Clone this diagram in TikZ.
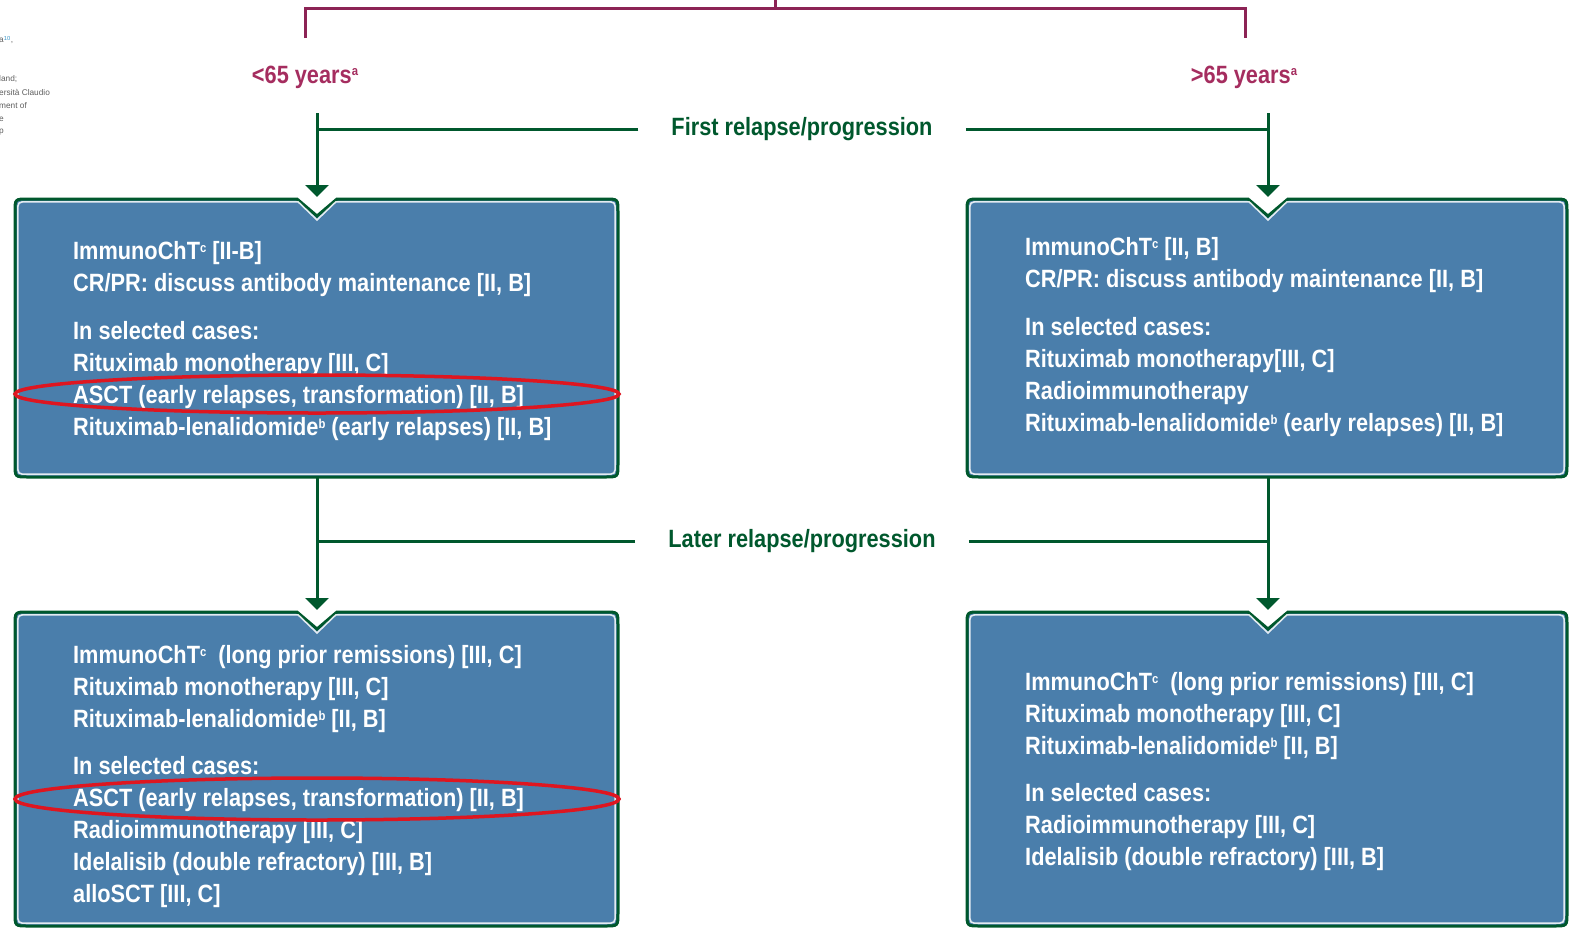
\documentclass[tikz,border=0pt]{standalone}
\usepackage{fontspec}
\setmainfont{Liberation Sans}[FakeStretch=0.87]
\newfontfamily\notefont{Liberation Sans}
\usetikzlibrary{arrows.meta}
\definecolor{boxblue}{RGB}{74,126,171}
\definecolor{dgreen}{RGB}{0,88,45}
\definecolor{magline}{RGB}{140,35,85}
\definecolor{magtext}{RGB}{165,45,95}
\definecolor{ovalred}{RGB}{222,22,32}
\definecolor{notegray}{RGB}{95,95,95}
\definecolor{noteblue}{RGB}{60,150,200}
\newcommand{\supx}[1]{\raisebox{0.55ex}{\fontsize{13}{13}\selectfont #1}}
% #1 left, #2 top, #3 right, #4 bottom, #5 notch x, #6 inset, #7 style
\newcommand{\notchdraw}[7]{%
  \path[#7] ({#1+#6},{#4-13}) -- ({#1+#6},{#2+13})
    .. controls ({#1+#6},{#2+#6}) .. ({#1+13},{#2+#6})
    -- ({#5-20+#6*0.4},{#2+#6}) -- (#5,{#2+17+#6*1.4}) -- ({#5+20-#6*0.4},{#2+#6})
    -- ({#3-13},{#2+#6}) .. controls ({#3-#6},{#2+#6}) .. ({#3-#6},{#2+13})
    -- ({#3-#6},{#4-13}) .. controls ({#3-#6},{#4-#6}) .. ({#3-13},{#4-#6})
    -- ({#1+13},{#4-#6}) .. controls ({#1+#6},{#4-#6}) .. ({#1+#6},{#4-13}) -- cycle;}
\newcommand{\panel}[5]{%
  \notchdraw{#1}{#2}{#3}{#4}{#5}{0}{boxouter}%
  \notchdraw{#1}{#2}{#3}{#4}{#5}{2.8}{boxinner}}
\tikzset{
  boxouter/.style={fill=boxblue, draw=dgreen, line width=3pt},
  boxinner/.style={draw=white, line width=1.6pt, draw opacity=0.85},
  boxtxt/.style={anchor=north west, inner sep=0pt, align=left, text=white,
    font=\fontsize{25}{32}\selectfont\bfseries},
  gline/.style={draw=dgreen, line width=3pt},
  garrow/.style={gline, -{Triangle[width=23pt,length=12pt]}},
  magl/.style={draw=magline, line width=3pt},
  glabel/.style={inner xsep=33pt, inner ysep=0pt, text=dgreen,
    font=\fontsize{25}{30}\selectfont\bfseries},
  agelabel/.style={inner sep=0pt, text=magtext, font=\fontsize{25}{30}\selectfont\bfseries},
  oval/.style={draw=ovalred, line width=3.5pt},
  note/.style={anchor=west, inner sep=0pt, text=notegray, font=\notefont\fontsize{8.3}{10}\selectfont}
}
\begin{document}
\begin{tikzpicture}[x=1pt,y=-1pt]
\useasboundingbox (0,0) rectangle (1572,930);
\fill[white] (0,0) rectangle (1572,930);

% cropped margin text
\node[note] (n1) at (-1,40) {a\textsuperscript{\color{noteblue}10},};
\node[note] (n2) at (-1,79) {land;};
\node[note] (n3) at (-1,92) {ersità Claudio};
\node[note] (n4) at (-1,106) {ment of};
\node[note] (n5) at (-1,119) {e};
\node[note] (n6) at (-1,132) {p};

% top bracket
\coordinate (root) at (775,0);
\coordinate (rootj) at (775,8);
\coordinate (brL) at (305,8);
\coordinate (brR) at (1245,8);
\coordinate (brLe) at (305,38);
\coordinate (brRe) at (1245,38);
\draw[magl] (root) -- (rootj);
\draw[magl] (brLe) -- (brL) -- (brR) -- (brRe);
\node[agelabel] (ageL) at (305,77) {<65 years\supx{a}};
\node[agelabel] (ageR) at (1244,77) {>65 years\supx{a}};

% panels
\panel{15}{199}{618}{477}{317}
\panel{967}{199}{1567}{477}{1268}
\panel{15}{612}{618}{926}{317}
\panel{967}{612}{1567}{926}{1268}

% connectors: first relapse
\node[glabel] (first) at (802,129) {First relapse/progression};
\coordinate (sL1) at (317,113);
\coordinate (jL1) at (317,129);
\coordinate (tL1) at (317,197);
\coordinate (sR1) at (1268,113);
\coordinate (jR1) at (1268,129);
\coordinate (tR1) at (1268,197);
\draw[garrow] (sL1) -- (tL1);
\draw[garrow] (sR1) -- (tR1);
\draw[gline] (first.west) -- (jL1);
\draw[gline] (first.east) -- (jR1);

% connectors: later relapse
\node[glabel] (later) at (802,541) {Later relapse/progression};
\coordinate (sL2) at (317,478);
\coordinate (jL2) at (317,541);
\coordinate (tL2) at (317,610);
\coordinate (sR2) at (1268,478);
\coordinate (jR2) at (1268,541);
\coordinate (tR2) at (1268,610);
\draw[garrow] (sL2) -- (tL2);
\draw[garrow] (sR2) -- (tR2);
\draw[gline] (later.west) -- (jL2);
\draw[gline] (later.east) -- (jR2);

% panel texts
\node[boxtxt] (tltext) at (73,241) {ImmunoChT\supx{c} [II-B]\\
CR/PR: discuss antibody maintenance [II, B]\\[16pt]
In selected cases:\\
Rituximab monotherapy [III, C]\\
ASCT (early relapses, transformation) [II, B]\\
Rituximab-lenalidomide\supx{b} (early relapses) [II, B]};

\node[boxtxt] (trtext) at (1025,237) {ImmunoChT\supx{c} [II, B]\\
CR/PR: discuss antibody maintenance [II, B]\\[16pt]
In selected cases:\\
Rituximab monotherapy[III, C]\\
Radioimmunotherapy\\
Rituximab-lenalidomide\supx{b} (early relapses) [II, B]};

\node[boxtxt] (bltext) at (73,645) {ImmunoChT\supx{c}\ \ (long prior remissions) [III, C]\\
Rituximab monotherapy [III, C]\\
Rituximab-lenalidomide\supx{b} [II, B]\\[15pt]
In selected cases:\\
ASCT (early relapses, transformation) [II, B]\\
Radioimmunotherapy [III, C]\\
Idelalisib (double refractory) [III, B]\\
alloSCT [III, C]};

\node[boxtxt] (brtext) at (1025,672) {ImmunoChT\supx{c}\ \ (long prior remissions) [III, C]\\
Rituximab monotherapy [III, C]\\
Rituximab-lenalidomide\supx{b} [II, B]\\[15pt]
In selected cases:\\
Radioimmunotherapy [III, C]\\
Idelalisib (double refractory) [III, B]};

% red highlight ovals
\draw[oval] (317,394) ellipse [x radius=302, y radius=19];
\draw[oval] (317,799) ellipse [x radius=302, y radius=21];
\end{tikzpicture}
\end{document}
